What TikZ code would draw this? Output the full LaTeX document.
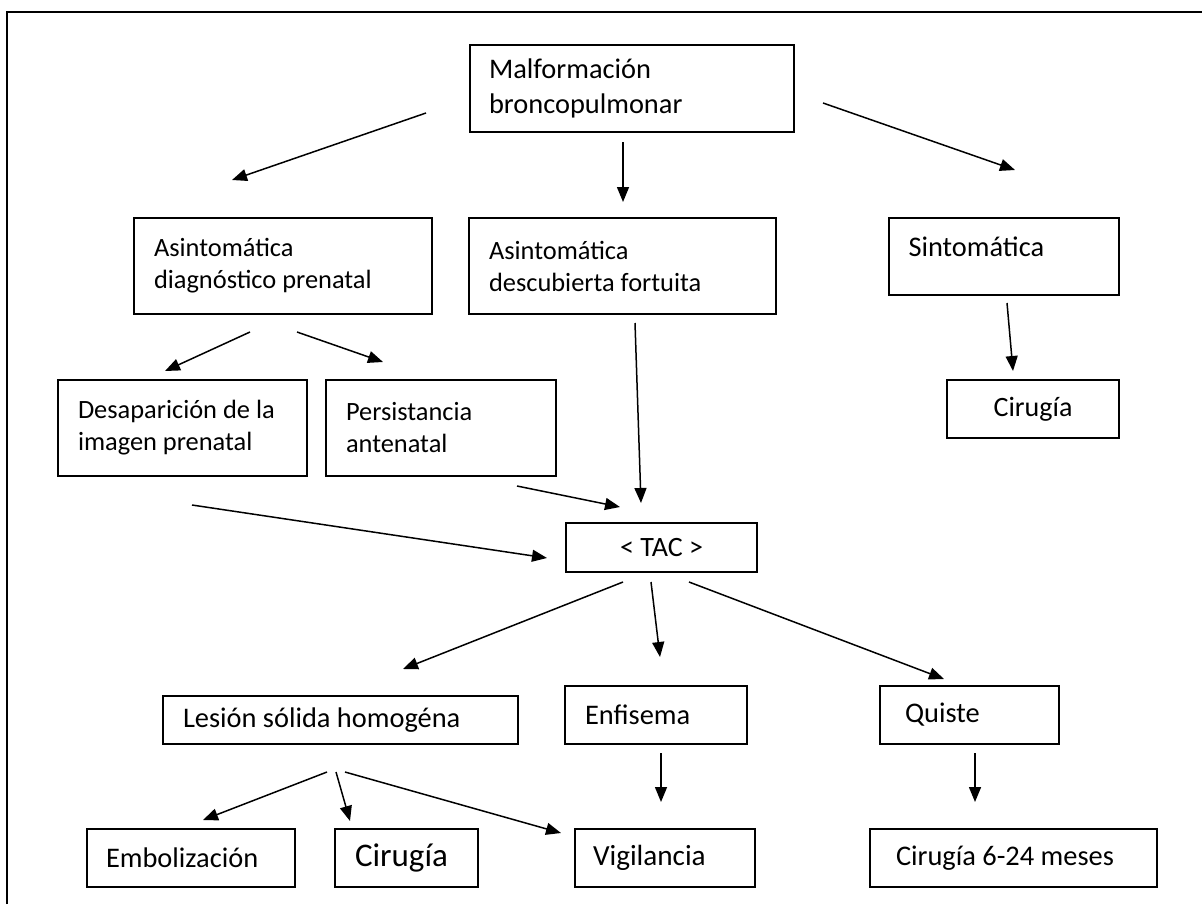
\documentclass[tikz,border=0pt]{standalone}
\usepackage{fontspec}
\setmainfont{Carlito}
\usetikzlibrary{arrows.meta}

\begin{document}
\begin{tikzpicture}[x=0.5pt, y=-0.5pt, line width=0.75pt, >={Triangle[length=7.5pt, width=6pt]}]
        % Definición de estilos
        \tikzstyle{nodoCaja} = [draw, rectangle, line width=0.8pt, align=flush left, inner xsep=10pt, inner ysep=0pt, font=\fontsize{14.2pt}{17.3pt}\selectfont]
        \tikzstyle{nodoPeque} = [nodoCaja, font=\fontsize{13.2pt}{16pt}\selectfont]
        \tikzstyle{nodoCentro} = [nodoCaja, align=flush center, font=\fontsize{14pt}{17pt}\selectfont]

        % Marco
        \useasboundingbox (0,0) rectangle (1202,904);
        \draw[line width=0.6pt] (7,904) -- (7,12) -- (1202,12);

        % Nodos primer nivel
        \node[nodoCaja, inner xsep=9.5pt, text width=143pt, minimum height=43.5pt] (malformacion) at (632,88.5) {Malformación\\broncopulmonar};
        \node[nodoPeque, text width=129pt, minimum height=48pt] (asintPrenatal) at (283,266) {Asintomática\\diagnóstico prenatal};
        \node[nodoPeque, text width=133.5pt, minimum height=48pt] (asintFortuita) at (622.5,266) {Asintomática\\descubierta fortuita};
        \node[nodoCaja, inner xsep=9.75pt, text width=95.5pt, minimum height=38.5pt, text depth=10pt] (sintomatica) at (1004,256.5) {Sintomática};

        % Nodos segundo nivel
        \node[nodoCentro, text width=66pt, minimum height=29pt] (cirugiaSint) at (1033,409) {Cirugía};
        \node[nodoPeque, text width=104.5pt, minimum height=48pt] (desaparicion) at (182.5,428) {Desaparición de la\\imagen prenatal};
        \node[nodoPeque, text width=95pt, minimum height=48pt] (persistencia) at (441,428) {Persistancia\\antenatal};
        \node[nodoCentro, text width=75.5pt, minimum height=24.5pt] (tac) at (661.5,547.5) {< TAC >};

        % Nodos tercer nivel
        \node[nodoCaja, text width=157.5pt, minimum height=24pt] (lesionSolida) at (340.5,720) {Lesión sólida homogéna};
        \node[nodoCaja, text width=71pt, minimum height=29pt] (enfisema) at (656,715) {Enfisema};
        \node[nodoCaja, inner xsep=12.5pt, text width=64.5pt, minimum height=29pt] (quiste) at (969.5,715) {Quiste};
        \node[nodoCaja, inner xsep=9.5pt, text width=85pt, minimum height=29pt] (embolizacion) at (191,858) {Embolización};
        \node[nodoCaja, text width=51.5pt, minimum height=29pt, font=\fontsize{16.5pt}{20pt}\selectfont] (cirugiaLesion) at (406.5,858) {Cirugía};
        \node[nodoCaja, inner xsep=9pt, text width=72pt, minimum height=29pt, font=\fontsize{14.6pt}{17.6pt}\selectfont] (vigilancia) at (665,858) {Vigilancia};
        \node[nodoCaja, inner xsep=13pt, text width=117.5pt, minimum height=29pt] (cirugiaQuiste) at (1013.5,858) {Cirugía 6-24 meses};

        % Extremos de las flechas
        \coordinate (malfIzq) at (426,113);   \coordinate (prenatalArr) at (232,180);
        \coordinate (malfAba) at (623,142);   \coordinate (fortuitaArr) at (623,202);
        \coordinate (malfDer) at (823,103);   \coordinate (sintArr) at (1015,170);
        \coordinate (sintAba) at (1007,303);  \coordinate (cirSintArr) at (1013,371);
        \coordinate (prenatalIzq) at (250,332); \coordinate (desapArr) at (165,371);
        \coordinate (prenatalDer) at (297,332); \coordinate (persistArr) at (383,362);
        \coordinate (fortuitaAba) at (635,323); \coordinate (tacArr) at (641,503);
        \coordinate (persistAba) at (517,486); \coordinate (tacIzqArr) at (620,507);
        \coordinate (desapAba) at (192,505);  \coordinate (tacIzq) at (547,558);
        \coordinate (tacAbaIzq) at (623,582); \coordinate (lesionArr) at (403,669);
        \coordinate (tacAba) at (651,582);    \coordinate (enfisemaArr) at (660,657);
        \coordinate (tacAbaDer) at (689,582); \coordinate (quisteArr) at (944,679);
        \coordinate (enfisemaAba) at (661,753); \coordinate (vigilArr) at (661,802);
        \coordinate (quisteAba) at (975,753); \coordinate (cirQuisteArr) at (975,802);
        \coordinate (lesionIzq) at (327,772); \coordinate (embolArr) at (203,820);
        \coordinate (lesionMed) at (336,772); \coordinate (cirLesionArr) at (350,821);
        \coordinate (lesionDer) at (345,772); \coordinate (vigilIzqArr) at (561,833);

        % Flechas
        \draw[->] (malfIzq) -- (prenatalArr);
        \draw[->] (malfAba) -- (fortuitaArr);
        \draw[->] (malfDer) -- (sintArr);
        \draw[->] (sintAba) -- (cirSintArr);
        \draw[->] (prenatalIzq) -- (desapArr);
        \draw[->] (prenatalDer) -- (persistArr);
        \draw[->] (fortuitaAba) -- (tacArr);
        \draw[->] (persistAba) -- (tacIzqArr);
        \draw[->] (desapAba) -- (tacIzq);
        \draw[->] (tacAbaIzq) -- (lesionArr);
        \draw[->] (tacAba) -- (enfisemaArr);
        \draw[->] (tacAbaDer) -- (quisteArr);
        \draw[->] (enfisemaAba) -- (vigilArr);
        \draw[->] (quisteAba) -- (cirQuisteArr);
        \draw[->] (lesionIzq) -- (embolArr);
        \draw[->] (lesionMed) -- (cirLesionArr);
        \draw[->] (lesionDer) -- (vigilIzqArr);
    \end{tikzpicture}
\end{document}
